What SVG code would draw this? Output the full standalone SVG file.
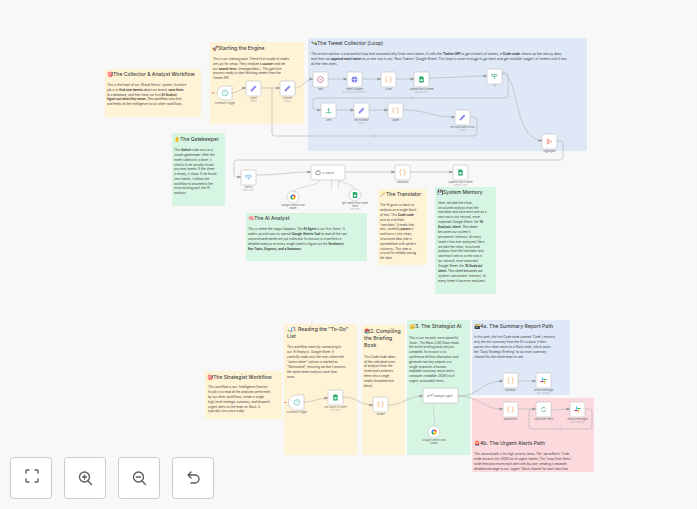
<svg xmlns="http://www.w3.org/2000/svg" width="697" height="509" viewBox="0 0 697 509">
<style>
text{font-family:"Inter","Liberation Sans",sans-serif;fill:#2d2d35}
.y{fill:#fff3d6}.g{fill:#d6f5e2}.bl{fill:#dee8f7}.r{fill:#fcd9dd}
.t{font-size:5.1px;font-weight:500;fill:#444}
.p{font-size:3.05px;fill:#444}
.b{font-weight:600;fill:#2a2a2a}
.node{fill:#fff;stroke:#bdbdbd;stroke-width:.6}
.lbl{font-size:2.5px;fill:#666;text-anchor:middle}
.sub{font-size:1.9px;fill:#b8b8b8;text-anchor:middle}
.c{fill:none;stroke:#b0b0b0;stroke-width:.6}
.c2{fill:none;stroke:#c4c4c4;stroke-width:.6}
.btn{fill:#fff;stroke:#cbcbcb;stroke-width:1}
.ic{fill:none;stroke:#5c5c5c;stroke-width:1.4;stroke-linecap:round;stroke-linejoin:round}
</style>
<defs>
<pattern id="dots" width="8" height="8" patternUnits="userSpaceOnUse"><rect width="8" height="8" fill="#f8f8f8"/><circle cx="1" cy="1" r=".5" fill="#f0f0f0"/></pattern>
<marker id="a" viewBox="0 0 4 4" refX="3.6" refY="2" markerWidth="4" markerHeight="4" markerUnits="userSpaceOnUse" orient="auto"><path d="M0 .5L4 2L0 3.500z" fill="#999"/></marker>
<g id="i-set"><path d="M-2.600 2.600L2.200-2.200" stroke="#8b8bf2" stroke-width="2" fill="none"/></g>
<g id="i-code"><path d="M-1.200-3C-2.600-3-1.900-.6-2.800 0C-1.900.6-2.600 3-1.200 3M1.200-3C2.600-3 1.900-.6 2.800 0C1.900.6 2.600 3 1.200 3" stroke="#f4a35c" stroke-width=".8" fill="none"/></g>
<g id="i-sheet"><path d="M-2.200-3H1L2.200-1.800V3H-2.200z" fill="#27a96a"/><rect x="-1.100" y="-.2" width="2.200" height="1.800" fill="#fff"/></g>
<g id="i-wait"><circle r="2.900" fill="none" stroke="#b3436a" stroke-width=".6"/><path d="M-1-.6L0 .6L1.200-1" stroke="#b3436a" stroke-width=".5" fill="none"/></g>
<g id="i-http"><circle r="2.900" fill="#7b7bec"/><path d="M-2.900 0H2.900M0-2.900V2.900" stroke="#fff" stroke-width=".5"/></g>
<g id="i-if"><path d="M-2.600-1.600H2.200L3-.7L2.200.2H-2.600z" fill="none" stroke="#45b184" stroke-width=".7"/><path d="M0 .2V2.800" stroke="#45b184" stroke-width=".7"/></g>
<g id="i-switch"><path d="M-2.600-1.600H2.200L3-.7L2.200.2H-2.600z" fill="none" stroke="#6cb4ea" stroke-width=".7"/><path d="M0 .2V2.800" stroke="#6cb4ea" stroke-width=".7"/></g>
<g id="i-limit"><path d="M0-2.800L1.200-.6H-1.200z" fill="#45bd86"/><path d="M-2.800 2.200H2.800M0-.6V2.200" stroke="#45bd86" stroke-width=".8"/></g>
<g id="i-agg"><path d="M-2.200-2.600L2.400 0L-2.200 2.600z" fill="none" stroke="#f0958c" stroke-width=".8"/><path d="M-.8-1.800V1.800" stroke="#f0958c" stroke-width=".9"/></g>
<g id="i-clock"><circle r="2.800" fill="none" stroke="#55c2b5" stroke-width=".7"/><path d="M0-1.400V.4" stroke="#55c2b5" stroke-width=".6"/></g>
<g id="i-robot"><rect x="-2.200" y="-1.400" width="4.400" height="3.400" rx=".8" fill="none" stroke="#666" stroke-width=".6"/><path d="M0-1.400V-2.600" stroke="#666" stroke-width=".6"/></g>
<g id="i-link"><path d="M-2.600 1.400L-.6-.6M.6.6L2.600-1.400" stroke="#777" stroke-width="1" fill="none" stroke-linecap="round"/></g>
<g id="i-loop"><path d="M-2.200-.4A2.300 2.300 0 0 1 2-1M2.200.4A2.300 2.300 0 0 1-2 1" fill="none" stroke="#3aa76d" stroke-width=".7"/></g>
<g id="i-gem"><path d="M0-2.600A2.600 2.600 0 0 1 2.600 0H0z" fill="#ea4335"/><path d="M2.600 0A2.600 2.600 0 0 1 0 2.600V0z" fill="#fbbc05"/><path d="M0 2.600A2.600 2.600 0 0 1-2.600 0H0z" fill="#34a853"/><path d="M-2.600 0A2.600 2.600 0 0 1 0-2.600V0z" fill="#4285f4"/><circle r="1" fill="#fff"/></g>
<g id="i-slack"><g stroke-width="1.100" stroke-linecap="round"><path d="M-1-2.600V-.3" stroke="#36c5f0"/><path d="M2.600-1H.3" stroke="#2eb67d"/><path d="M1 2.600V.3" stroke="#ecb22e"/><path d="M-2.600 1H-.3" stroke="#e01e5a"/></g></g>
<clipPath id="clip4b"><rect x="472" y="398" width="122" height="74"/></clipPath>
</defs>
<rect width="697" height="509" fill="url(#dots)"/>

<g id="note-collector"><rect class="y" x="105" y="69" width="96" height="48"/><text class="t" x="107" y="76">🎯The Collector &amp; Analyst Workflow</text>
<text class="p" x="107" y="86">This is the heart of our 'Brand Sentry' system. Its entire<tspan x="107" dy="4.800">job is to <tspan class="b">find new tweets</tspan> about our brand, <tspan class="b">save them</tspan></tspan><tspan x="107" dy="4.800">to a database, and then have our first <tspan class="b">AI Analyst</tspan></tspan><tspan x="107" dy="4.800" class="b">figure out what they mean.<tspan style="font-weight:400"> This workflow runs first</tspan></tspan><tspan x="107" dy="4.800">and feeds all the intelligence to our other workflows.</tspan></text></g>

<g id="note-engine"><rect class="y" x="210" y="42" width="94" height="82"/><text class="t" x="212" y="50">🚀Starting the Engine</text>
<text class="p" x="213" y="60.300">This is our starting point. These first couple of nodes<tspan x="213" dy="4.700">are just for setup. They initialize a <tspan class="b">counter</tspan> and set</tspan><tspan x="213" dy="4.700">our <tspan class="b">search term</tspan> ('emergentlabs'). This gets the</tspan><tspan x="213" dy="4.700">process ready to start fetching tweets from the</tspan><tspan x="213" dy="4.700">Twitter API.</tspan></text></g>

<g id="note-loop"><rect class="bl" x="308" y="38" width="279" height="113"/><text class="t" x="311" y="45">🛰️The Tweet Collector (Loop)</text>
<text class="p" x="311" y="55" style="font-size:3.3px">This entire section is a powerful loop that automatically finds new tweets. It calls the <tspan class="b">Twitter API</tspan> to get a batch of tweets, a <tspan class="b">Code node</tspan> cleans up the messy data,<tspan x="311" dy="5">and then we <tspan class="b">append each tweet</tspan> as a new row in our 'Raw Tweets' Google Sheet. This loop is smart enough to go back and get multiple 'pages' of tweets until it has</tspan><tspan x="311" dy="5">all the new ones.</tspan></text></g>

<g id="note-gatekeeper"><rect class="g" x="172" y="133" width="53" height="73"/><text class="t" x="174" y="141">✋The Gatekeeper</text>
<text class="p" x="174" y="151.300">This <tspan class="b">Switch</tspan> node acts as a<tspan x="174" dy="4.770">simple gatekeeper. After the</tspan><tspan x="174" dy="4.770">tweet collection is done, it</tspan><tspan x="174" dy="4.770">checks if we actually found</tspan><tspan x="174" dy="4.770">any new tweets. If the sheet</tspan><tspan x="174" dy="4.770">is empty, it stops. If we found</tspan><tspan x="174" dy="4.770">new tweets, it allows the</tspan><tspan x="174" dy="4.770">workflow to proceed to the</tspan><tspan x="174" dy="4.770">most exciting part: the AI</tspan><tspan x="174" dy="4.770">analysis.</tspan></text></g>

<g id="note-analyst"><rect class="g" x="246" y="213" width="121" height="48"/><text class="t" x="248" y="220">🧠The AI Analyst</text>
<text class="p" x="248" y="230.300">This is where the magic happens. The <tspan class="b">AI Agent</tspan> is our first 'brain.' It<tspan x="248" dy="4.800">wakes up and uses its special <tspan class="b">Google Sheets Tool</tspan> to read all the raw,</tspan><tspan x="248" dy="4.800">unprocessed tweets we just collected. Its mission is to perform a</tspan><tspan x="248" dy="4.800">detailed analysis on every single tweet to figure out the <tspan class="b">Sentiment,</tspan></tspan><tspan x="248" dy="4.800" class="b">Key Topic, Urgency, and a Summary.</tspan></text></g>

<g id="note-translator"><rect class="y" x="378" y="189" width="49" height="76"/><text class="t" x="380" y="196">🪄The Translator</text>
<text class="p" x="380" y="206.300">The AI gives us back its<tspan x="380" dy="4.800">analysis as a single block</tspan><tspan x="380" dy="4.800">of text. This <tspan class="b">Code node</tspan></tspan><tspan x="380" dy="4.800">acts as a brilliant</tspan><tspan x="380" dy="4.800">'translator.' It reads that</tspan><tspan x="380" dy="4.800">text, carefully <tspan class="b">parses</tspan> it,</tspan><tspan x="380" dy="4.800">and turns it into clean,</tspan><tspan x="380" dy="4.800">structured data (like a</tspan><tspan x="380" dy="4.800">spreadsheet with perfect</tspan><tspan x="380" dy="4.800">columns). This step is</tspan><tspan x="380" dy="4.800">crucial for reliably saving</tspan><tspan x="380" dy="4.800">the data.</tspan></text></g>

<g id="note-memory"><rect class="g" x="435" y="187" width="61" height="107"/><text class="t" x="437" y="194">💾System Memory</text>
<text class="p" x="438" y="203.700">Here, we take the clean,<tspan x="438" dy="4.875">structured analysis from the</tspan><tspan x="438" dy="4.875">translator and save each one as a</tspan><tspan x="438" dy="4.875">new row in our second, more</tspan><tspan x="438" dy="4.875">important Google Sheet: the <tspan class="b">'AI</tspan></tspan><tspan x="438" dy="4.875" class="b">Analysis' sheet.<tspan style="font-weight:400"> This sheet</tspan></tspan><tspan x="438" dy="4.875">becomes our system's</tspan><tspan x="438" dy="4.875">permanent 'memory' of every</tspan><tspan x="438" dy="4.875">tweet it has ever analyzed. Here,</tspan><tspan x="438" dy="4.875">we take the clean, structured</tspan><tspan x="438" dy="4.875">analysis from the translator and</tspan><tspan x="438" dy="4.875">save each one as a new row in</tspan><tspan x="438" dy="4.875">our second, more important</tspan><tspan x="438" dy="4.875">Google Sheet: the <tspan class="b">'AI Analysis'</tspan></tspan><tspan x="438" dy="4.875" class="b">sheet.<tspan style="font-weight:400"> This sheet becomes our</tspan></tspan><tspan x="438" dy="4.875">system's permanent 'memory' of</tspan><tspan x="438" dy="4.875">every tweet it has ever analyzed.</tspan></text></g>

<g id="note-strategist"><rect class="y" x="205" y="371" width="77" height="48"/><text class="t" x="207" y="379">🎯The Strategist Workflow</text>
<text class="p" x="208" y="388.300">This workflow is our 'Intelligence Director'.<tspan x="208" dy="4.800">Its job is to read all the analyses performed</tspan><tspan x="208" dy="4.800">by our other workflows, create a single</tspan><tspan x="208" dy="4.800">high-level strategic summary, and dispatch</tspan><tspan x="208" dy="4.800">urgent alerts to the team on Slack. It</tspan><tspan x="208" dy="4.800">typically runs once a day.</tspan></text></g>

<g id="note-reading"><rect class="y" x="284" y="324" width="73" height="131"/><text class="t" x="287" y="331">📊1. Reading the "To-Do"<tspan x="287" dy="7">List</tspan></text>
<text class="p" x="287" y="347.700">This workflow starts by connecting to<tspan x="287" dy="5">our 'AI Analysis' Google Sheet. It</tspan><tspan x="287" dy="5">carefully reads only the rows where the</tspan><tspan x="287" dy="5">"action taken" column is marked as</tspan><tspan x="287" dy="5">"Notmarked", ensuring we don't process</tspan><tspan x="287" dy="5">the same tweet analysis more than</tspan><tspan x="287" dy="5">once.</tspan></text></g>

<g id="note-compiling"><rect class="y" x="362" y="325" width="43" height="130"/><text class="t" x="364" y="333">📚2. Compiling<tspan x="364" dy="7">the Briefing</tspan><tspan x="364" dy="7">Book</tspan></text>
<text class="p" x="364" y="357.700">This Code node takes<tspan x="364" dy="4.830">all the individual rows</tspan><tspan x="364" dy="4.830">of analysis from the</tspan><tspan x="364" dy="4.830">sheet and combines</tspan><tspan x="364" dy="4.830">them into a single,</tspan><tspan x="364" dy="4.830">neatly formatted text</tspan><tspan x="364" dy="4.830">block.</tspan></text></g>

<g id="note-ai"><rect class="g" x="407" y="320" width="63" height="135"/><text class="t" x="409" y="328">👑3. The Strategist AI</text>
<text class="p" x="409" y="338.700">This is our second, more powerful<tspan x="409" dy="4.800">'brain'. The Basic LLM Chain reads</tspan><tspan x="409" dy="4.800">the entire briefing book we just</tspan><tspan x="409" dy="4.800">compiled. Its mission is to</tspan><tspan x="409" dy="4.800">synthesize all that information and</tspan><tspan x="409" dy="4.800">generate two key outputs in a</tspan><tspan x="409" dy="4.800">single response: a human-</tspan><tspan x="409" dy="4.800">readable summary report and a</tspan><tspan x="409" dy="4.800">computer-readable JSON list of</tspan><tspan x="409" dy="4.800">urgent, actionable items.</tspan></text></g>

<g id="note-4a"><rect class="bl" x="472" y="320" width="98" height="75"/><text class="t" x="474" y="328">🗃️4a. The Summary Report Path</text>
<text class="p" x="474" y="338.300">In this path, the first Code node (named 'Code') extracts<tspan x="474" dy="4.900">only the text summary from the AI's output. It then</tspan><tspan x="474" dy="4.900">passes this clean report to a Slack node, which posts</tspan><tspan x="474" dy="4.900">the "Daily Strategic Briefing" to our main summary</tspan><tspan x="474" dy="4.900">channel for the whole team to see.</tspan></text></g>

<g id="note-4b"><rect class="r" x="472" y="398" width="122" height="74"/><text class="t" x="474" y="445">🚨4b. The Urgent Alerts Path</text>
<text class="p" x="474" y="455.300" clip-path="url(#clip4b)">This second path is for high-priority items. The 'parseAlerts' Code<tspan x="474" dy="4.900">node extracts the JSON list of urgent tweets. The 'Loop Over Items'</tspan><tspan x="474" dy="4.900">node then processes each alert one-by-one, sending a separate,</tspan><tspan x="474" dy="4.900">detailed message to our 'urgent' Slack channel for each item that</tspan></text></g>

<g id="connectors">
<path class="c" marker-end="url(#a)" d="M232 93C238 93 240 88 246 88"/>
<path class="c" marker-end="url(#a)" d="M261 88H280"/>
<path class="c" marker-end="url(#a)" d="M295 88C303 88 305 79 313 79"/>
<path class="c" marker-end="url(#a)" d="M328 79H347"/>
<path class="c" marker-end="url(#a)" d="M362 79H381"/>
<path class="c" marker-end="url(#a)" d="M395 79H414"/>
<path class="c" marker-end="url(#a)" d="M429 78C450 78 465 76 487 76"/>
<path class="c" marker-end="url(#a)" d="M501 73H505Q508 73 508 76V95Q508 98 505 98H316Q313 98 313 101V107Q313 110 316 110H321"/>
<path class="c" d="M411 96.600L412.600 98L411 99.400"/>
<path class="c" marker-end="url(#a)" d="M501 73C522 76 510 135 542 141"/>
<path class="c" marker-end="url(#a)" d="M335 110H354"/>
<path class="c" marker-end="url(#a)" d="M368 110H388"/>
<path class="c" marker-end="url(#a)" d="M402 110C428 110 430 117 455 117"/>
<path class="c" d="M469 117H474Q477 117 477 120V133Q477 136 474 136H275Q272 136 272 133V88"/>
<path class="c" d="M375 134.600L373.400 136L375 137.400"/>
<path class="c" marker-end="url(#a)" d="M556 141H560Q563 141 563 144V157Q563 160 560 160H237Q234 160 234 163V174Q234 177 237 177H241"/>
<path class="c" marker-end="url(#a)" d="M256 175C280 175 290 172 311 172"/>
<path class="c" marker-end="url(#a)" d="M345 172H395"/>
<path class="c" marker-end="url(#a)" d="M410 172H453"/>
<path class="c2" d="M320 180C318 186 300 186 294 191"/>
<path class="c2" d="M331.500 180V189M338.500 180V189"/>
<path class="c2" d="M338.500 181C345 183 352 184 355 189"/>
<path class="c" marker-end="url(#a)" d="M304 402C314 402 318 398 328 398"/>
<path class="c" marker-end="url(#a)" d="M343 397C358 397 358 405 373 405"/>
<path class="c" marker-end="url(#a)" d="M388 405C403 405 408 396 423 396"/>
<path class="c" marker-end="url(#a)" d="M458 396C480 396 481 381 503 381"/>
<path class="c" marker-end="url(#a)" d="M458 396C480 396 481 409 503 409"/>
<path class="c" marker-end="url(#a)" d="M518 381H536"/>
<path class="c" marker-end="url(#a)" d="M518 409H536"/>
<path class="c" marker-end="url(#a)" d="M551 410C558 410 563 409 570 409"/>
<path class="c" d="M585 409H589Q592 409 592 412V426Q592 429 589 429H532Q529 429 529 426V412Q529 409 532 409"/>
<path class="c" d="M561 427.600L559.400 429L561 430.400"/>
<path class="c2" d="M434 403C432 412 436 418 434 426"/>
</g>

<g id="schedule-1"><path d="M211.500 93H215" stroke="#f08080" stroke-width=".8"/><path class="node" d="M224 86H232V100H224A7 7 0 0 1 224 86z"/><use href="#i-clock" x="225" y="93"/><text class="lbl" x="225" y="104">Schedule Trigger</text></g>
<g id="count"><rect class="node" x="246" y="81" width="15" height="15" rx="1.500"/><use href="#i-set" x="253.500" y="88.500"/><text class="lbl" x="253.500" y="99">count</text><text class="sub" x="253.500" y="101.500">manual</text></g>
<g id="counter"><rect class="node" x="280" y="81" width="15" height="15" rx="1.500"/><use href="#i-set" x="287.500" y="88.500"/><text class="lbl" x="287.500" y="99">counter</text><text class="sub" x="287.500" y="101.500">manual</text></g>
<g id="wait"><rect class="node" x="313" y="72" width="15" height="15" rx="1.500"/><use href="#i-wait" x="320.500" y="79.500"/><text class="lbl" x="320.500" y="90">Wait</text></g>
<g id="scraper"><rect class="node" x="347" y="72" width="15" height="15" rx="1.500"/><use href="#i-http" x="354.500" y="79.500"/><text class="lbl" x="354.500" y="90">Tweet Scraper</text><text class="sub" x="354.500" y="92.500">GET: https://api.twitterapi.io</text></g>
<g id="code"><rect class="node" x="381" y="72" width="15" height="15" rx="1.500"/><use href="#i-code" x="388.500" y="79.500"/><text class="lbl" x="388.500" y="90">Code</text></g>
<g id="append-1"><rect class="node" x="414" y="72" width="15" height="15" rx="1.500"/><use href="#i-sheet" x="421.500" y="79.500"/><text class="lbl" x="421.500" y="90">Append row in sheet</text><text class="sub" x="421.500" y="92.500">append: sheet</text></g>
<g id="if"><rect class="node" x="487" y="69" width="15" height="15" rx="1.500"/><use href="#i-if" x="494.500" y="76"/><text class="lbl" x="494.500" y="87">If</text></g>
<g id="limit"><rect class="node" x="321" y="103" width="15" height="15" rx="1.500"/><use href="#i-limit" x="328.500" y="110.500"/><text class="lbl" x="328.500" y="121">Limit</text></g>
<g id="set-increase"><rect class="node" x="354" y="103" width="15" height="15" rx="1.500"/><use href="#i-set" x="361.500" y="110.500"/><text class="lbl" x="361.500" y="121">set increase</text><text class="sub" x="361.500" y="123.500">manual</text></g>
<g id="code1"><rect class="node" x="388" y="103" width="15" height="15" rx="1.500"/><use href="#i-code" x="395.500" y="110.500"/><text class="lbl" x="395.500" y="121">Code1</text></g>
<g id="set-count"><rect class="node" x="455" y="110" width="15" height="15" rx="1.500"/><use href="#i-set" x="462.500" y="117.500"/><text class="lbl" x="462.500" y="128">set count and cursor</text><text class="sub" x="462.500" y="130.500">manual</text></g>
<g id="aggregate"><rect class="node" x="542" y="134" width="15" height="15" rx="1.500"/><use href="#i-agg" x="549.500" y="141.500"/><text class="lbl" x="549.500" y="152">Aggregate</text></g>
<g id="switch"><rect class="node" x="241" y="170" width="15" height="15" rx="1.500"/><use href="#i-switch" x="248.500" y="177"/><text class="lbl" x="248.500" y="188">Switch</text><text class="sub" x="248.500" y="190.500">mode: Rules</text></g>
<g id="ai-analyst"><rect class="node" x="311" y="165" width="34" height="15" rx="1"/><use href="#i-robot" x="318" y="172.500"/><text class="lbl" x="328" y="173.500">AI Analyst</text></g>
<g id="translator"><rect class="node" x="395" y="165" width="15" height="15" rx="1.500"/><use href="#i-code" x="402.500" y="172.500"/><text class="lbl" x="402.500" y="183">Translator</text></g>
<g id="append-2"><rect class="node" x="453" y="165" width="15" height="15" rx="1.500"/><use href="#i-sheet" x="460.500" y="172.500"/><text class="lbl" x="460.500" y="183">Append row in sheet</text><text class="sub" x="460.500" y="185.500">append: sheet</text></g>
<g id="gemini-1"><circle class="node" cx="293" cy="197" r="6"/><use href="#i-gem" x="293" y="197"/><text class="lbl" x="293" y="206">Google Gemini Chat</text><text class="lbl" x="293" y="209">Model</text></g>
<g id="get-tweets"><circle class="node" cx="355" cy="195" r="6"/><use href="#i-sheet" x="355" y="195"/><text class="lbl" x="355" y="204">get tweets from sheet</text><text class="lbl" x="355" y="207">store</text><text class="sub" x="355" y="210">read: sheet</text></g>

<g id="schedule-2"><path d="M284 402.500H287" stroke="#f08080" stroke-width=".8"/><path class="node" d="M296 395H304V410H296A7.500 7.500 0 0 1 296 395z"/><use href="#i-clock" x="297" y="402.500"/><text class="lbl" x="297" y="413">Schedule Trigger</text></g>
<g id="get-many"><rect class="node" x="328" y="390" width="15" height="15" rx="1.500"/><use href="#i-sheet" x="335.500" y="397.500"/><text class="lbl" x="335.500" y="408">Get row(s) in sheet</text><text class="sub" x="335.500" y="410.500">read: sheet</text></g>
<g id="update"><rect class="node" x="373" y="397" width="15" height="15" rx="1.500"/><use href="#i-code" x="380.500" y="404.500"/><text class="lbl" x="380.500" y="415">update</text></g>
<g id="agent"><rect class="node" x="423" y="388" width="35" height="15" rx="1"/><use href="#i-link" x="430" y="395.500"/><text class="lbl" x="443" y="396.500">Strategist Agent</text></g>
<g id="gemini-2"><circle class="node" cx="434" cy="432" r="6"/><use href="#i-gem" x="434" y="432"/><text class="lbl" x="434" y="441">Google Gemini Chat</text><text class="lbl" x="434" y="444">Model</text></g>
<g id="summary"><rect class="node" x="503" y="373" width="15" height="15" rx="1.500"/><use href="#i-code" x="510.500" y="380.500"/><text class="lbl" x="510.500" y="391">summary</text></g>
<g id="send-1"><rect class="node" x="536" y="373" width="15" height="15" rx="1.500"/><use href="#i-slack" x="543.500" y="380.500"/><text class="lbl" x="543.500" y="391">Send a message</text><text class="sub" x="543.500" y="393.500">post: message</text></g>
<g id="parse"><rect class="node" x="503" y="402" width="15" height="15" rx="1.500"/><use href="#i-code" x="510.500" y="409.500"/><text class="lbl" x="510.500" y="420">parseAlerts</text></g>
<g id="loop"><rect class="node" x="536" y="402" width="15" height="15" rx="1.500"/><use href="#i-loop" x="543.500" y="409.500"/><text class="lbl" x="543.500" y="420">Loop Over Items</text></g>
<g id="send-2"><rect class="node" x="570" y="402" width="15" height="15" rx="1.500"/><use href="#i-slack" x="577.500" y="409.500"/><text class="lbl" x="577.500" y="420">Send a message1</text><text class="sub" x="577.500" y="422.500">post: message</text></g>

<g id="controls">
<rect class="btn" x="10.500" y="457.500" width="41" height="41" rx="3"/><path class="ic" d="M26 473V471Q26 470 27 470H29M35 470H37Q38 470 38 471V473M38 479V481Q38 482 37 482H35M29 482H27Q26 482 26 481V479"/>
<rect class="btn" x="64.500" y="457.500" width="41" height="41" rx="3"/><circle class="ic" cx="84.500" cy="477" r="5"/><path class="ic" d="M88 481L91.500 484.500M82.500 477H86.500M84.500 475V479"/>
<rect class="btn" x="118.500" y="457.500" width="41" height="41" rx="3"/><circle class="ic" cx="138.500" cy="477" r="5"/><path class="ic" d="M142 481L145.500 484.500M136.500 477H140.500"/>
<rect class="btn" x="172.500" y="457.500" width="41" height="41" rx="3"/><path class="ic" d="M191 472L188 475L191 478M188 475H195A3.800 3.800 0 0 1 195 483H191"/>
</g>
</svg>
